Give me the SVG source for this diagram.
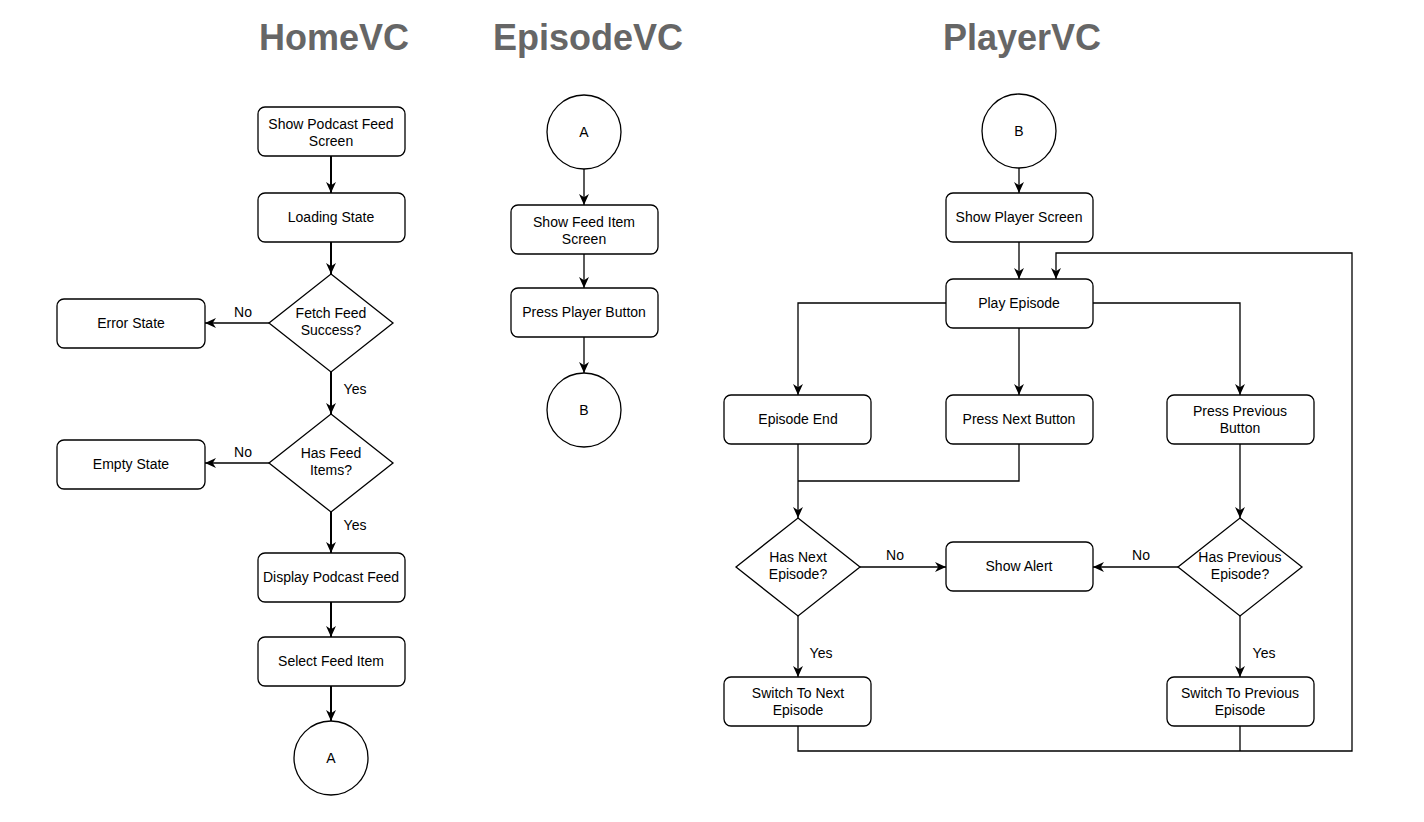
<svg xmlns="http://www.w3.org/2000/svg" width="1424" height="822" viewBox="0 0 1424 822">
<style>
.t{font-family:"Liberation Sans",Arial,sans-serif;font-size:36px;font-weight:bold;fill:#666;text-anchor:middle}
.n rect,.n path,.n circle{fill:#fff;stroke:#000;stroke-width:1.3}
.l{font-family:"Liberation Sans",Arial,sans-serif;font-size:14px;fill:#000;text-anchor:middle}
.c path{fill:none;stroke:#000;stroke-width:1.3}
.c path.b{stroke-width:2}
</style>
<defs>
<marker id="a" viewBox="0 0 10 10" refX="10" refY="5" markerWidth="11" markerHeight="11" markerUnits="userSpaceOnUse" orient="auto">
<path d="M0,0.5 L10,5 L0,9.5 L3,5 z" fill="#000"/>
</marker>
</defs>
<rect width="1424" height="822" fill="#fff"/>
<text class="t" x="334" y="50">HomeVC</text>
<text class="t" x="588" y="50">EpisodeVC</text>
<text class="t" x="1022" y="50">PlayerVC</text>

<g class="c" id="connectors">
<path class="b" d="M331,156 V193" marker-end="url(#a)"/>
<path class="b" d="M331,242 V274" marker-end="url(#a)"/>
<path d="M269,323 H205" marker-end="url(#a)"/>
<path class="b" d="M331,372 V414" marker-end="url(#a)"/>
<path d="M269,463 H205" marker-end="url(#a)"/>
<path class="b" d="M331,512 V553" marker-end="url(#a)"/>
<path class="b" d="M331,602 V637" marker-end="url(#a)"/>
<path class="b" d="M331,686 V721" marker-end="url(#a)"/>
<path d="M584,169 V205" marker-end="url(#a)"/>
<path d="M584,254 V288" marker-end="url(#a)"/>
<path d="M584,337 V373" marker-end="url(#a)"/>
<path d="M1019,168 V193" marker-end="url(#a)"/>
<path d="M1019,242 V279" marker-end="url(#a)"/>
<path d="M946,303 H798 V395" marker-end="url(#a)"/>
<path d="M1019,328 V395" marker-end="url(#a)"/>
<path d="M1093,303 H1240 V395" marker-end="url(#a)"/>
<path d="M798,444 V518" marker-end="url(#a)"/>
<path d="M1019,444 V481 H798"/>
<path d="M1240,444 V518" marker-end="url(#a)"/>
<path d="M860,567 H946" marker-end="url(#a)"/>
<path d="M1178,567 H1093" marker-end="url(#a)"/>
<path d="M798,616 V677" marker-end="url(#a)"/>
<path d="M1240,616 V677" marker-end="url(#a)"/>
<path d="M798,726 V751 H1352 V253 H1056 V279" marker-end="url(#a)"/>
<path d="M1240,726 V751"/>
<text class="l" x="243" y="317">No</text>
<text class="l" x="355" y="394">Yes</text>
<text class="l" x="243" y="457">No</text>
<text class="l" x="355" y="530">Yes</text>
<text class="l" x="895" y="560">No</text>
<text class="l" x="1141" y="560">No</text>
<text class="l" x="821" y="658">Yes</text>
<text class="l" x="1264" y="658">Yes</text>
</g>

<g class="n" id="show-podcast-feed"><rect x="258" y="107" width="147" height="49" rx="7"/><text class="l" x="331" y="129">Show Podcast Feed</text><text class="l" x="331" y="146">Screen</text></g>
<g class="n" id="loading-state"><rect x="258" y="193" width="147" height="49" rx="7"/><text class="l" x="331" y="222">Loading State</text></g>
<g class="n" id="fetch-success"><path d="M331,274 L393,323 L331,372 L269,323 Z"/><text class="l" x="331" y="318">Fetch Feed</text><text class="l" x="331" y="335">Success?</text></g>
<g class="n" id="error-state"><rect x="57" y="299" width="148" height="49" rx="7"/><text class="l" x="131" y="328">Error State</text></g>
<g class="n" id="has-feed-items"><path d="M331,414 L393,463 L331,512 L269,463 Z"/><text class="l" x="331" y="458">Has Feed</text><text class="l" x="331" y="475">Items?</text></g>
<g class="n" id="empty-state"><rect x="57" y="440" width="148" height="49" rx="7"/><text class="l" x="131" y="469">Empty State</text></g>
<g class="n" id="display-feed"><rect x="258" y="553" width="147" height="49" rx="7"/><text class="l" x="331" y="582">Display Podcast Feed</text></g>
<g class="n" id="select-item"><rect x="258" y="637" width="147" height="49" rx="7"/><text class="l" x="331" y="666">Select Feed Item</text></g>
<g class="n" id="home-a"><circle cx="331" cy="758" r="37"/><text class="l" x="331" y="763">A</text></g>

<g class="n" id="ep-a"><circle cx="584" cy="132" r="37"/><text class="l" x="584" y="137">A</text></g>
<g class="n" id="show-feed-item"><rect x="511" y="205" width="147" height="49" rx="7"/><text class="l" x="584" y="227">Show Feed Item</text><text class="l" x="584" y="244">Screen</text></g>
<g class="n" id="press-player"><rect x="511" y="288" width="147" height="49" rx="7"/><text class="l" x="584" y="317">Press Player Button</text></g>
<g class="n" id="ep-b"><circle cx="584" cy="410" r="37"/><text class="l" x="584" y="415">B</text></g>

<g class="n" id="pl-b"><circle cx="1019" cy="131" r="37"/><text class="l" x="1019" y="136">B</text></g>
<g class="n" id="show-player"><rect x="946" y="193" width="147" height="49" rx="7"/><text class="l" x="1019" y="222">Show Player Screen</text></g>
<g class="n" id="play-episode"><rect x="946" y="279" width="147" height="49" rx="7"/><text class="l" x="1019" y="308">Play Episode</text></g>
<g class="n" id="episode-end"><rect x="724" y="395" width="147" height="49" rx="7"/><text class="l" x="798" y="424">Episode End</text></g>
<g class="n" id="press-next"><rect x="946" y="395" width="147" height="49" rx="7"/><text class="l" x="1019" y="424">Press Next Button</text></g>
<g class="n" id="press-prev"><rect x="1167" y="395" width="147" height="49" rx="7"/><text class="l" x="1240" y="416">Press Previous</text><text class="l" x="1240" y="433">Button</text></g>
<g class="n" id="has-next"><path d="M798,518 L860,567 L798,616 L736,567 Z"/><text class="l" x="798" y="562">Has Next</text><text class="l" x="798" y="579">Episode?</text></g>
<g class="n" id="show-alert"><rect x="946" y="542" width="147" height="49" rx="7"/><text class="l" x="1019" y="571">Show Alert</text></g>
<g class="n" id="has-prev"><path d="M1240,518 L1302,567 L1240,616 L1178,567 Z"/><text class="l" x="1240" y="562">Has Previous</text><text class="l" x="1240" y="579">Episode?</text></g>
<g class="n" id="switch-next"><rect x="724" y="677" width="147" height="49" rx="7"/><text class="l" x="798" y="698">Switch To Next</text><text class="l" x="798" y="715">Episode</text></g>
<g class="n" id="switch-prev"><rect x="1167" y="677" width="147" height="49" rx="7"/><text class="l" x="1240" y="698">Switch To Previous</text><text class="l" x="1240" y="715">Episode</text></g>
</svg>
